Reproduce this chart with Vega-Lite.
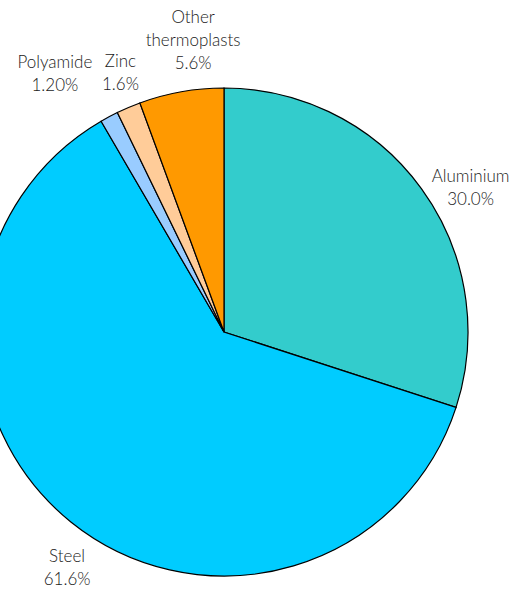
{
  "$schema": "https://vega.github.io/schema/vega-lite/v6.json",
  "width": 448,
  "height": 488,
  "autosize": {"type": "none"},
  "padding": {"left": 0, "top": 88, "right": 78, "bottom": 13},
  "background": "white",
  "config": {"view": {"stroke": null}, "text": {"font": "Lato", "fontSize": 17, "fontWeight": 300, "color": "#1a1a1a"}},
  "data": {
    "values": [
      {"material": "Aluminium", "share": 30.0, "order": 1, "text": "Aluminium\n30.0%"},
      {"material": "Steel", "share": 61.6, "order": 2, "text": "Steel\n61.6%"},
      {"material": "Polyamide", "share": 1.2, "order": 3, "text": "Polyamide\n1.20%"},
      {"material": "Zinc", "share": 1.6, "order": 4, "text": "Zinc\n1.6%"},
      {"material": "Other thermoplasts", "share": 5.6, "order": 5, "text": "Other\nthermoplasts\n5.6%"}
    ]
  },
  "encoding": {
    "theta": {"field": "share", "type": "quantitative", "stack": true},
    "order": {"field": "order", "type": "quantitative"}
  },
  "layer": [
    {
      "mark": {"type": "arc", "radius": 244, "stroke": "#000000", "strokeWidth": 1.2},
      "encoding": {
        "color": {
          "field": "material", "type": "nominal",
          "scale": {"domain": ["Aluminium", "Steel", "Polyamide", "Zinc", "Other thermoplasts"],
                    "range": ["#33CCCC", "#00CCFF", "#99CCFF", "#FFCC99", "#FF9900"]},
          "legend": null
        }
      }
    },
    {
      "mark": {"type": "text", "radius": 285, "lineBreak": "\n", "lineHeight": 23, "align": "center", "baseline": "middle", "dx": 16, "dy": 12.5},
      "encoding": {"text": {"condition": {"test": "datum.material === 'Aluminium'", "field": "text"}, "value": ""}}
    },
    {
      "mark": {"type": "text", "radius": 285, "lineBreak": "\n", "lineHeight": 23, "align": "center", "baseline": "middle", "dx": 22, "dy": 3},
      "encoding": {"text": {"condition": {"test": "datum.material === 'Steel'", "field": "text"}, "value": ""}}
    },
    {
      "mark": {"type": "text", "radius": 285, "lineBreak": "\n", "lineHeight": 23, "align": "center", "baseline": "middle", "dx": -35, "dy": -18},
      "encoding": {"text": {"condition": {"test": "datum.material === 'Polyamide'", "field": "text"}, "value": ""}}
    },
    {
      "mark": {"type": "text", "radius": 285, "lineBreak": "\n", "lineHeight": 23, "align": "center", "baseline": "middle", "dx": 8, "dy": -8},
      "encoding": {"text": {"condition": {"test": "datum.material === 'Zinc'", "field": "text"}, "value": ""}}
    },
    {
      "mark": {"type": "text", "radius": 285, "lineBreak": "\n", "lineHeight": 23, "align": "center", "baseline": "middle", "dx": 19, "dy": -33},
      "encoding": {"text": {"condition": {"test": "datum.material === 'Other thermoplasts'", "field": "text"}, "value": ""}}
    }
  ]
}
